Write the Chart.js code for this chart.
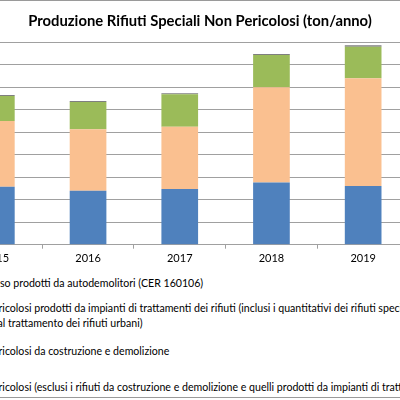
<!DOCTYPE html>
<html>
<head>
<meta charset="utf-8">
<script src="https://cdn.jsdelivr.net/npm/chart.js@4.4.1/dist/chart.umd.min.js"></script>
<style>
  html, body { margin: 0; padding: 0; background: #fff; }
  #frame {
    position: relative; width: 400px; height: 396px; overflow: hidden;
    border-top: 1px solid #9a9a9a; border-bottom: 1px solid #9a9a9a; background: #fff;
  }
  #title {
    position: absolute; left: 0; top: 11px; width: 400px; text-align: center;
    font-family: Lato, "Open Sans", sans-serif; font-weight: bold; font-size: 14.8px;
    line-height: 17px; color: #000; white-space: nowrap;
  }
  #chartBox { position: absolute; left: -120px; top: -1px; width: 640px; height: 275px; }
  #legend {
    position: absolute; top: 275px; left: -60px;
    font-family: Lato, "Open Sans", sans-serif; font-size: 10.6px; color: #000;
    white-space: nowrap; line-height: 15px;
  }
  .entry { position: relative; }
  .entry .box { position: absolute; left: -14px; top: 4px; width: 7px; height: 7px; }
</style>
</head>
<body>
<div id="frame">
  <div id="chartBox"><canvas id="rifiutiChart"></canvas></div>
  <div id="title">Produzione Rifiuti Speciali Non Pericolosi (ton/anno)</div>
  <div id="legend"></div>
</div>
<script>
const years = ['2015', '2016', '2017', '2018', '2019'];

// ton/anno, stacked from the bottom up
const altriNonPericolosi = [2580000, 2400000, 2480000, 2770000, 2610000];
const costruzioneDemolizione = [2920000, 2730000, 2770000, 4230000, 4790000];
const impiantiTrattamento = [1110000, 1220000, 1440000, 1430000, 1400000];
const autodemolitori = [50000, 40000, 40000, 50000, 70000];

const yTicks = [0, 1000000, 2000000, 3000000, 4000000, 5000000, 6000000, 7000000, 8000000, 9000000];

// legend order as in the original (top series first)
const legendEntries = [
    { color: '#7f7f7f', lines: [['Veicoli fuori u', 'so prodotti da autodemolitori (CER 160106)']] },
    { color: '#9bbb59', lines: [
        ['Rifiuti non pe', 'ricolosi prodotti da impianti di trattamenti dei rifiuti (inclusi i quantitativi dei rifiuti speciali provenienti'],
        ['provenienti d', 'al trattamento dei rifiuti urbani)']
    ] },
    { color: '#fac090', lines: [['Rifiuti non pe', 'ricolosi da costruzione e demolizione']] },
    { color: '#4f81bd', lines: [['Rifiuti non pe', 'ricolosi (esclusi i rifiuti da costruzione e demolizione e quelli prodotti da impianti di trattamento dei rifiuti)']] }
];
const legendGaps = [0, 10, 13, 21];

function buildLegend() {
    const legend = document.getElementById('legend');
    legendEntries.forEach((entry, i) => {
        const div = document.createElement('div');
        div.className = 'entry';
        div.style.marginTop = legendGaps[i] + 'px';
        const box = document.createElement('span');
        box.className = 'box';
        box.style.background = entry.color;
        div.appendChild(box);
        entry.lines.forEach((line) => {
            const row = document.createElement('div');
            const hidden = document.createElement('span');
            hidden.className = 'pre';
            hidden.textContent = line[0];
            row.appendChild(hidden);
            row.appendChild(document.createTextNode(line[1]));
            div.appendChild(row);
        });
        legend.appendChild(div);
    });
    const firstPre = legend.querySelector('.pre');
    legend.style.left = (-firstPre.getBoundingClientRect().width) + 'px';
}

function renderChart() {
    const ctx = document.getElementById('rifiutiChart').getContext('2d');
    new Chart(ctx, {
        type: 'bar',
        data: {
            labels: years,
            datasets: [
                { label: 'Rifiuti non pericolosi (esclusi C&D e impianti)', data: altriNonPericolosi, backgroundColor: '#4f81bd' },
                { label: 'Rifiuti non pericolosi da costruzione e demolizione', data: costruzioneDemolizione, backgroundColor: '#fac090' },
                { label: 'Rifiuti non pericolosi da impianti di trattamento', data: impiantiTrattamento, backgroundColor: '#9bbb59' },
                { label: 'Veicoli fuori uso (CER 160106)', data: autodemolitori, backgroundColor: '#7f7f7f' }
            ]
        },
        options: {
            animation: false,
            responsive: true,
            maintainAspectRatio: false,
            layout: { padding: { top: 42.3, right: 111, left: 0, bottom: 0 } },
            datasets: { bar: { barPercentage: 0.4, categoryPercentage: 1.0, borderWidth: 0 } },
            scales: {
                x: {
                    stacked: true,
                    offset: true,
                    grid: { offset: true, drawOnChartArea: false, drawTicks: true, tickLength: 4, color: '#a0a0a0' },
                    border: { color: '#a0a0a0' },
                    ticks: { color: '#000', padding: 3, font: { family: 'Lato', size: 11 } },
                    afterFit: (axis) => { axis.height = 30.3; }
                },
                y: {
                    stacked: true,
                    min: 0,
                    max: 9000000,
                    afterBuildTicks: (axis) => { axis.ticks = yTicks.map(v => ({ value: v })); },
                    grid: { color: '#a0a0a0', drawTicks: false },
                    border: { color: '#a0a0a0' },
                    ticks: {
                        color: '#000', padding: 6, font: { family: 'Lato', size: 11 },
                        callback: (v) => v.toLocaleString('it-IT')
                    },
                    afterFit: (axis) => { axis.width = 70.5; }
                }
            },
            plugins: {
                legend: { display: false },
                tooltip: { enabled: false },
                title: { display: false }
            }
        }
    });
}

buildLegend();
renderChart();
</script>
</body>
</html>
